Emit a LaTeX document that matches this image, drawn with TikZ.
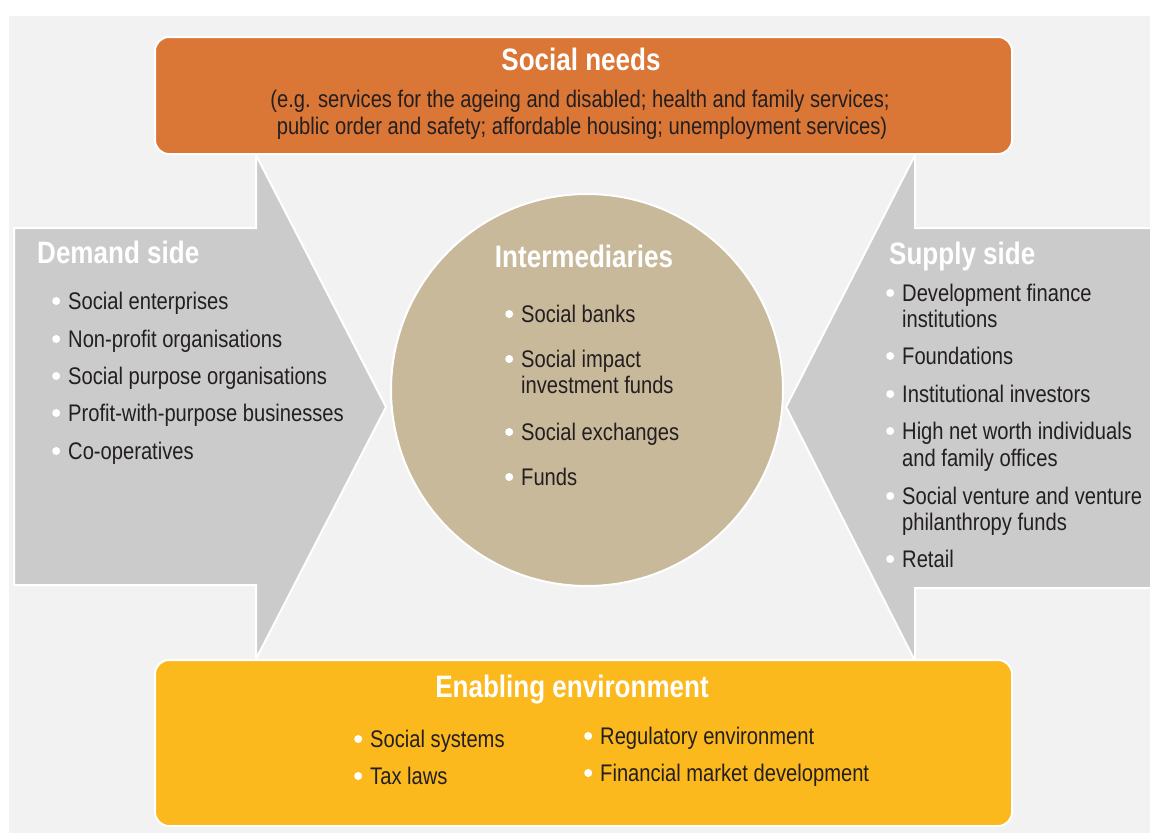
\documentclass[tikz,border=0pt]{standalone}
\usepackage{fontspec}
\setmainfont[FakeStretch=0.84]{Liberation Sans}
\definecolor{bgc}{RGB}{242,242,242}
\definecolor{orangec}{RGB}{218,118,54}
\definecolor{yellowc}{RGB}{251,185,29}
\definecolor{grayc}{RGB}{203,203,203}
\definecolor{tanc}{RGB}{201,185,155}
\definecolor{txtc}{RGB}{35,31,32}
\newcommand\bul{\tikz[baseline=0pt]{\fill[white] (4pt,8pt) circle (4pt);}\hspace{8pt}}
\tikzset{
  panel/.style={draw=white, line width=2pt, line join=miter},
  txt/.style={anchor=base west, inner sep=0pt, text=txtc, font=\fontsize{24}{26}\selectfont},
  ctxt/.style={anchor=base, inner sep=0pt, text=txtc, font=\fontsize{24}{26}\selectfont},
  ttl/.style={anchor=base, inner sep=0pt, text=white, font=\bfseries\fontsize{31}{34}\selectfont},
  lttl/.style={ttl, anchor=base west}
}
\begin{document}
\begin{tikzpicture}[x=1pt,y=-1pt]
\useasboundingbox (0,0) rectangle (1150,835);
\fill[white] (0,0) rectangle (1150,835);
\fill[bgc] (9,16) rectangle (1150,833);
% demand arrow
\path[panel, fill=grayc] (14,228) -- (256,228) -- (256,155) -- (386,407) -- (256,659) -- (256,585) -- (14,585) -- cycle;
% supply arrow
\path[panel, fill=grayc] (1152,228) -- (915,228) -- (915,155) -- (786,407) -- (915,661) -- (915,588) -- (1152,588);
% boxes
\path[panel, fill=orangec, rounded corners=14pt] (155,37) rectangle (1012,154);
\path[panel, fill=yellowc, rounded corners=14pt] (155,660) rectangle (1012,826);
% circle
\path[panel, fill=tanc] (587,390) circle (196);

% social needs
\node[ttl] (snt) at (581,70) {Social needs};
\node[ctxt] (sn1) at (580,107) {(e.g. services for the ageing and disabled; health and family services;};
\node[ctxt] (sn2) at (582,134) {public order and safety; affordable housing; unemployment services)};

% demand side
\node[lttl] (dst) at (37,263) {Demand side};
\node[txt] (d1) at (52,309) {\bul Social enterprises};
\node[txt] (d2) at (52,347) {\bul Non-profit organisations};
\node[txt] (d3) at (52,384) {\bul Social purpose organisations};
\node[txt] (d4) at (52,421) {\bul Profit-with-purpose businesses};
\node[txt] (d5) at (52,459) {\bul Co-operatives};

% intermediaries
\node[ttl] (imt) at (584,267) {Intermediaries};
\node[txt] (i1) at (505,322) {\bul Social banks};
\node[txt] (i2) at (505,367) {\bul Social impact};
\node[txt] (i2b) at (521,393) {investment funds};
\node[txt] (i3) at (505,440) {\bul Social exchanges};
\node[txt] (i4) at (505,485) {\bul Funds};

% supply side
\node[lttl] (sst) at (889,264) {Supply side};
\node[txt] (s1) at (886,301) {\bul Development finance};
\node[txt] (s1b) at (902,327) {institutions};
\node[txt] (s2) at (886,364) {\bul Foundations};
\node[txt] (s3) at (886,402) {\bul Institutional investors};
\node[txt] (s4) at (886,439) {\bul High net worth individuals};
\node[txt] (s4b) at (902,466) {and family offices};
\node[txt] (s5) at (886,504) {\bul Social venture and venture};
\node[txt] (s5b) at (902,530) {philanthropy funds};
\node[txt] (s6) at (886,567) {\bul Retail};

% enabling environment
\node[ttl] (eet) at (572,697) {Enabling environment};
\node[txt] (e1) at (354,747) {\bul Social systems};
\node[txt] (e2) at (354,784) {\bul Tax laws};
\node[txt] (e3) at (584,744) {\bul Regulatory environment};
\node[txt] (e4) at (584,781) {\bul Financial market development};
\end{tikzpicture}
\end{document}
